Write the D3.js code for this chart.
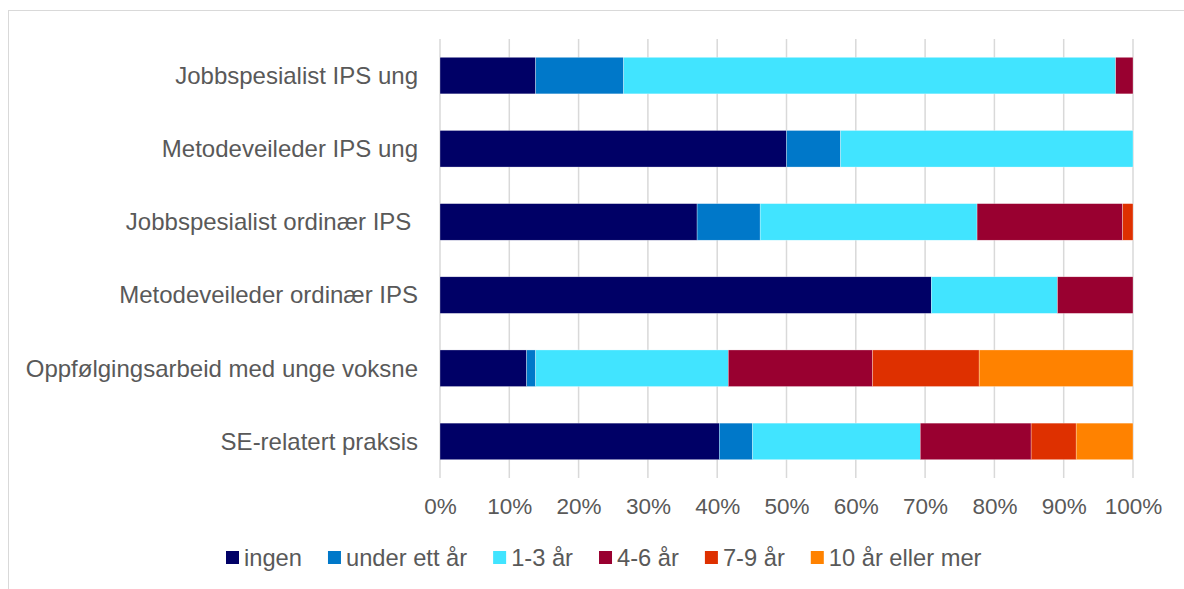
<!DOCTYPE html>
<html>
<head>
<meta charset="utf-8">
<script src="https://cdn.jsdelivr.net/npm/d3@7"></script>
<style>
  body { margin: 0; background: #fff; }
  text { font-family: "Liberation Sans", Arial, sans-serif; fill: #595959; }
</style>
</head>
<body>
<div id="chart"></div>
<script>
const categories = [
    "Jobbspesialist IPS ung",
    "Metodeveileder IPS ung",
    "Jobbspesialist ordinær IPS ",
    "Metodeveileder ordinær IPS",
    "Oppfølgingsarbeid med unge voksne",
    "SE-relatert praksis"
];
const seriesNames = ["ingen", "under ett år", "1-3 år", "4-6 år", "7-9 år", "10 år eller mer"];
const seriesColors = ["#000066", "#0078C9", "#41E4FF", "#990030", "#DE3000", "#FF8200"];

// share per category, in percent, one array per series
const ingen      = [13.8, 50.0, 37.1, 70.9, 12.5, 40.3];
const underEtt   = [12.7,  7.8,  9.1,  0.0,  1.3,  4.8];
const ett3       = [71.0, 42.2, 31.3, 18.2, 27.8, 24.2];
const fire6      = [ 2.5,  0.0, 21.0, 10.9, 20.8, 16.0];
const syv9       = [ 0.0,  0.0,  1.5,  0.0, 15.4,  6.5];
const tiPluss    = [ 0.0,  0.0,  0.0,  0.0, 22.2,  8.2];
const tickValues = [0, 10, 20, 30, 40, 50, 60, 70, 80, 90, 100];

const seriesValues = [ingen, underEtt, ett3, fire6, syv9, tiPluss];
const table = categories.map((c, i) => {
    const row = {cat: c};
    seriesNames.forEach((s, j) => row[s] = seriesValues[j][i]);
    return row;
});

const W = 1184, H = 589;
const margin = {left: 440, right: 51, top: 39, bottom: 111};

const svg = d3.select("#chart").append("svg")
    .attr("width", W)
    .attr("height", H);

// chart frame
svg.append("rect")
    .attr("x", 8.5).attr("y", 10.5)
    .attr("width", W + 20).attr("height", H + 20)
    .attr("fill", "none")
    .attr("stroke", "#d9d9d9")
    .attr("stroke-width", 1);

const x = d3.scaleLinear().domain([0, 100]).range([margin.left, W - margin.right]);
const y = d3.scaleBand().domain(categories).range([margin.top, H - margin.bottom])
    .paddingInner(0.5).paddingOuter(0.25);

// gridlines
svg.append("g").selectAll("line")
    .data(tickValues)
    .enter().append("line")
    .attr("x1", d => x(d)).attr("x2", d => x(d))
    .attr("y1", margin.top).attr("y2", H - margin.bottom)
    .attr("stroke", "#d9d9d9")
    .attr("stroke-width", 1.5);

const stack = d3.stack().keys(seriesNames);
const layers = stack(table);

const color = d3.scaleOrdinal().domain(seriesNames).range(seriesColors);

svg.append("g").selectAll("g")
    .data(layers)
    .enter().append("g")
    .attr("fill", d => color(d.key))
    .selectAll("rect")
    .data(d => d.filter(p => p[1] - p[0] > 0))
    .enter().append("rect")
    .attr("x", d => x(d[0]))
    .attr("y", d => y(d.data.cat))
    .attr("width", d => x(d[1]) - x(d[0]))
    .attr("height", y.bandwidth())
    .attr("stroke", "#ffffff")
    .attr("stroke-width", 0.5)
    .attr("stroke-opacity", 0.6);

// category labels
svg.append("g").selectAll("text")
    .data(categories)
    .enter().append("text")
    .attr("x", 418)
    .attr("y", d => y(d) + y.bandwidth() / 2)
    .attr("dy", "0.35em")
    .attr("text-anchor", "end")
    .style("font-size", "24px")
    .style("white-space", "pre")
    .text(d => d);

// x tick labels
const xAxis = svg.append("g")
    .attr("transform", "translate(0," + (H - margin.bottom) + ")")
    .call(d3.axisBottom(x).tickValues(tickValues).tickFormat(d => d + "%").tickSize(0).tickPadding(20));
xAxis.select(".domain").remove();
xAxis.selectAll("text")
    .attr("fill", "#595959")
    .style("font-size", "22.5px")
    .style("font-family", "Liberation Sans, Arial, sans-serif");

// legend
const legend = svg.append("g").attr("transform", "translate(226,0)");
let lx = 0;
seriesNames.forEach(function(s) {
    const g = legend.append("g").attr("transform", "translate(" + lx + ",0)");
    g.append("rect")
        .attr("x", 0).attr("y", 551)
        .attr("width", 13).attr("height", 13)
        .attr("fill", color(s));
    const t = g.append("text")
        .attr("x", 18).attr("y", 557.5)
        .attr("dy", "0.35em")
        .style("font-size", "23.7px")
        .text(s);
    lx += 18 + t.node().getComputedTextLength() + 26;
});
</script>
</body>
</html>
